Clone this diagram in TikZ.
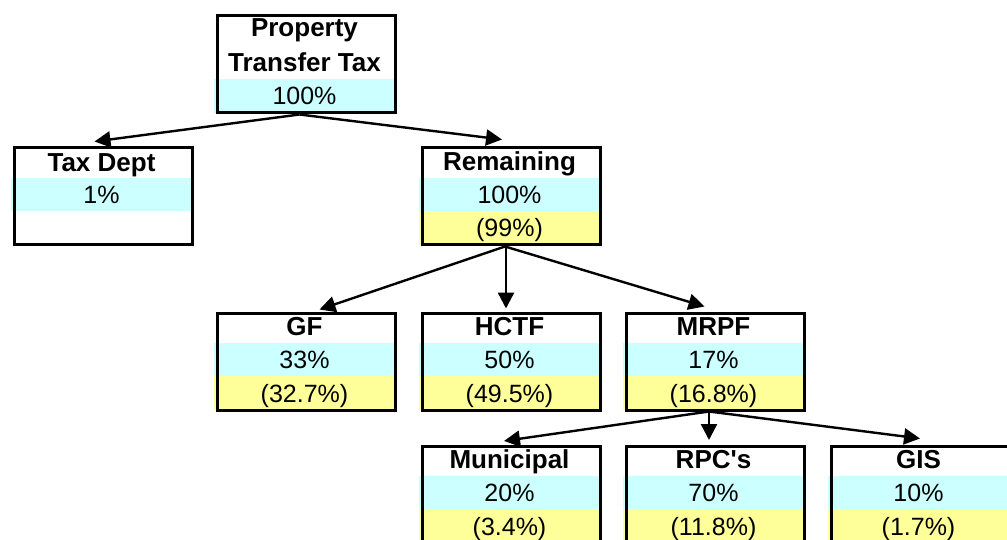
\documentclass[tikz,border=0pt]{standalone}
\usepackage{fontspec}
\setmainfont{Liberation Sans}
\usetikzlibrary{arrows.meta}
\definecolor{cyanband}{HTML}{CCFFFF}
\definecolor{yellowband}{HTML}{FFFF99}
\tikzset{
  boxframe/.style={draw=black, line width=3pt, minimum width=178pt, minimum height=97pt, inner sep=0pt, anchor=north west},
  titletext/.style={font=\fontsize{26}{30}\selectfont\bfseries, inner sep=0pt, anchor=base},
  pcttext/.style={font=\fontsize{25}{30}\selectfont, inner sep=0pt, anchor=base},
  arr/.style={line width=2.4pt, -{Triangle[length=16pt,width=16pt]}},
}
% name, x, y, title, pct, sub
\newcommand\fundbox[6]{%
  \fill[cyanband] (#2,#3+33) rectangle ++(181,33);
  \fill[yellowband] (#2,#3+66) rectangle ++(181,34);
  \node[boxframe] (#1) at (#2+1.5,#3+1.5) {};
  \node[titletext] (#1-t) at (#2+90.5,#3+16.5+9.3) {#4};
  \node[pcttext] (#1-p) at (#2+90.5,#3+49.5+9) {#5};
  \node[pcttext] (#1-s) at (#2+90.5,#3+83+9) {#6};
}
\begin{document}
\begin{tikzpicture}[x=1pt,y=-1pt]
\useasboundingbox (0,0) rectangle (1007,540);
% top box
\fill[cyanband] (214,79) rectangle (395,113);
\node[boxframe] (top) at (215.5,14.5) {};
\node[titletext] (top-t1) at (304.5,37) {Property};
\node[titletext] (top-t2) at (304.5,72) {Transfer Tax};
\node[pcttext] (top-p) at (304.5,105) {100\%};
% tax dept
\fill[cyanband] (11,178) rectangle ++(181,33);
\node[boxframe] (tax) at (12.5,146.5) {};
\node[titletext] (tax-t) at (101.5,171.3) {Tax Dept};
\node[pcttext] (tax-p) at (101.5,203.5) {1\%};
% others
\fundbox{rem}{419}{145}{Remaining}{100\%}{(99\%)}
\fundbox{gf}{214}{310}{GF}{33\%}{(32.7\%)}
\fundbox{hctf}{419}{310}{HCTF}{50\%}{(49.5\%)}
\fundbox{mrpf}{623}{310}{MRPF}{17\%}{(16.8\%)}
\fundbox{mun}{419}{443}{Municipal}{20\%}{(3.4\%)}
\fundbox{rpc}{623}{443}{RPC\textquotesingle s}{70\%}{(11.8\%)}
\fundbox{gis}{828}{443}{GIS}{10\%}{(1.7\%)}
% connectors
\draw[arr] ([xshift=-6.5pt]top.south) -- ([xshift=-8.5pt,yshift=5pt]tax.north);
\draw[arr] ([xshift=-6.5pt]top.south) -- ([xshift=-9pt,yshift=7pt]rem.north);
\draw[arr] ([xshift=-6pt]rem.south) -- ([xshift=13.5pt,yshift=2pt]gf.north);
\draw[arr] ([xshift=-5pt]rem.south) -- ([xshift=-5pt,yshift=3pt]hctf.north);
\draw[arr] ([xshift=-6pt]rem.south) -- ([xshift=-10.5pt,yshift=5pt]mrpf.north);
\draw[arr] ([xshift=-6pt]mrpf.south) -- ([xshift=-7pt,yshift=3.5pt]mun.north);
\draw[arr] ([xshift=-6pt]mrpf.south) -- ([xshift=-6pt,yshift=4.5pt]rpc.north);
\draw[arr] ([xshift=-6pt]mrpf.south) -- ([xshift=0pt,yshift=6pt]gis.north);
\end{tikzpicture}
\end{document}
